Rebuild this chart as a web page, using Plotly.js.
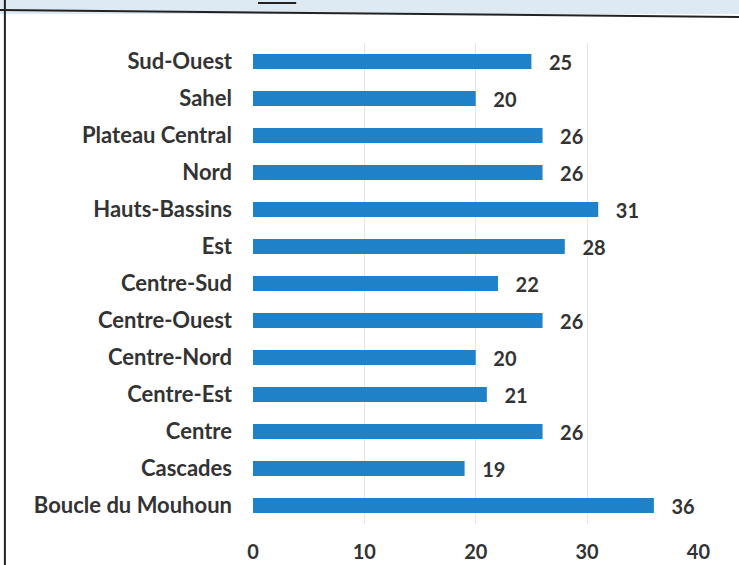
<!DOCTYPE html>
<html>
<head>
<meta charset="utf-8">
<script src="https://cdn.plot.ly/plotly-3.0.1.min.js"></script>
<style>
  body{margin:0;background:#fff;}
  #grafica{width:739px;height:565px;}
</style>
</head>
<body>
<div id="grafica"></div>
<script>
const regions=["Boucle du Mouhoun","Cascades","Centre","Centre-Est","Centre-Nord","Centre-Ouest","Centre-Sud","Est","Hauts-Bassins","Nord","Plateau Central","Sahel","Sud-Ouest"];
const valeurs=[36,19,26,21,20,26,22,28,31,26,26,20,25];
const ticksX=[0,10,20,30,40];

// px -> paper, pour le cadre du scan
const px=(x)=>(x-253)/444;
const py=(y)=>(524-y)/481;

let datos=[{
  type:"bar",
  orientation:"h",
  y:regions,
  x:valeurs,
  width:0.4,
  marker:{color:"#1f82c9"},
  text:valeurs.map(v=>"   "+v),
  textposition:"outside",
  constraintext:"none",
  cliponaxis:false,
  textfont:{family:"Lato",size:20,color:"#333",weight:"bold"},
  hoverinfo:"none"
}];

let layout={
  width:739,height:565,
  margin:{l:253,r:40,t:43,b:41},
  paper_bgcolor:"#fff",
  plot_bgcolor:"#fff",
  showlegend:false,
  font:{family:"Lato",size:20,color:"#333"},
  xaxis:{
    range:[0,40.05],
    tickvals:ticksX,
    ticktext:ticksX.map(String),
    showgrid:true,
    gridcolor:"#e4e4e4",
    zeroline:false,
    showline:false,
    ticks:"",
    ticklabelstandoff:14,
    tickfont:{family:"Lato",size:20,color:"#333",weight:"bold"},
    fixedrange:true
  },
  yaxis:{
    showgrid:false,
    zeroline:false,
    ticks:"",
    ticklabelstandoff:20,
    tickfont:{family:"Lato",size:22,color:"#333",weight:"bold"},
    fixedrange:true
  },
  shapes:[
    {type:"rect",xref:"paper",yref:"paper",x0:px(0),x1:px(739),y0:py(14),y1:py(0),fillcolor:"#dde9f3",line:{width:0},layer:"below"},
    {type:"line",xref:"paper",yref:"paper",x0:px(0),x1:px(739),y0:py(10),y1:py(17),line:{color:"#222",width:2}},
    {type:"line",xref:"paper",yref:"paper",x0:px(6),x1:px(6),y0:py(0),y1:py(565),line:{color:"#222",width:2}},
    {type:"line",xref:"paper",yref:"paper",x0:px(258),x1:px(296),y0:py(3),y1:py(3),line:{color:"#222",width:2}}
  ]
};
Plotly.newPlot("grafica",datos,layout,{staticPlot:true});
</script>
</body>
</html>
